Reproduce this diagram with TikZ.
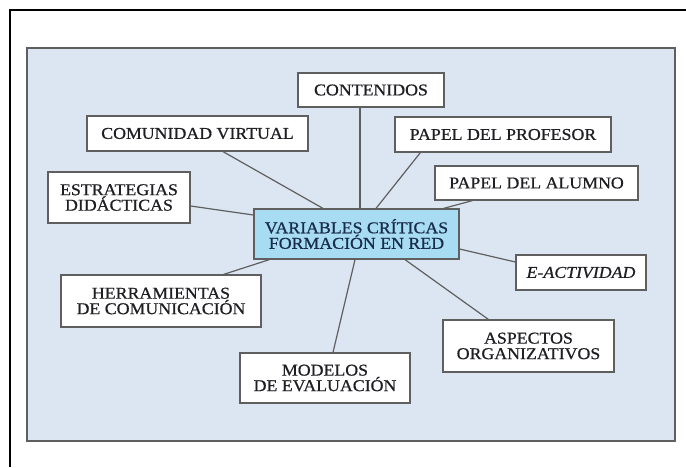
\documentclass[tikz,border=0pt]{standalone}
\usepackage{fontspec}
\setmainfont{Liberation Serif}[FakeStretch=1.08, FakeBold=0.7]
\usetikzlibrary{positioning}
\definecolor{fondo}{RGB}{220,230,242}
\definecolor{celeste}{RGB}{168,220,242}
\definecolor{borde}{RGB}{95,95,95}
\definecolor{tinta}{RGB}{30,30,35}
\definecolor{azul}{RGB}{25,45,75}
\tikzstyle{block} = [rectangle, draw=borde, fill=white, line width=1.2pt,
    text=tinta, align=center, inner sep=0pt, font=\fontsize{16.5}{15.5}\selectfont]
\tikzstyle{core} = [block, fill=celeste, text=azul]
\tikzstyle{line} = [draw=borde, line width=1.2pt]

\begin{document}
\begin{tikzpicture}[x=1pt, y=-1pt]
		\useasboundingbox (0,0) rectangle (686,467);
		\draw[line width=1.5pt] (10,467) -- (10,10) -- (686,10);
		\draw[draw=borde, fill=fondo, line width=1.5pt] (27,48) rectangle (675,441);
		% node placement
		\node [core, minimum width=205pt, minimum height=50pt] (VCF) at (356.5,234) {VARIABLES CRÍTICAS\\FORMACIÓN EN RED};
		\node [block, minimum width=146pt, minimum height=34pt] (CONT) at (371,90) {CONTENIDOS};
		\node [block, minimum width=221pt, minimum height=35pt] (COMV) at (197.5,133.5) {COMUNIDAD VIRTUAL};
		\node [block, minimum width=142pt, minimum height=51pt] (ESTR) at (119,197.5) {ESTRATEGIAS\\DIDÁCTICAS};
		\node [block, minimum width=216pt, minimum height=35pt] (PROF) at (503,134.5) {PAPEL DEL PROFESOR};
		\node [block, minimum width=203pt, minimum height=34pt] (ALUM) at (536.5,183) {PAPEL DEL ALUMNO};
		\node [block, minimum width=130pt, minimum height=35pt] (EACT) at (581,272.5) {\itshape E-ACTIVIDAD};
		\node [block, minimum width=171pt, minimum height=52pt] (ASPO) at (528.5,346) {ASPECTOS\\ORGANIZATIVOS};
		\node [block, minimum width=170pt, minimum height=50pt] (MODE) at (325,378) {MODELOS\\DE EVALUACIÓN};
		\node [block, minimum width=200pt, minimum height=52pt] (HERR) at (161,301) {HERRAMIENTAS\\DE COMUNICACIÓN};
		
		% spokes
		\path[line] ([xshift=-11pt]CONT.south) -- ([xshift=3.5pt]VCF.north);
		\path[line] ([xshift=25.5pt]COMV.south) -- ([xshift=-33.5pt]VCF.north);
		\path[line] ([yshift=-8.5pt]ESTR.east) -- ([yshift=19pt]VCF.west);
		\path[line] ([xshift=26pt]PROF.south west) -- ([xshift=19.5pt]VCF.north);
		\path[line] ([xshift=38pt]ALUM.south west) -- ([xshift=-16pt]VCF.north east);
		\path[line] ([yshift=10.5pt]EACT.west) -- ([yshift=-15pt]VCF.east);
		\path[line] ([xshift=46pt]ASPO.north west) -- ([xshift=48.5pt]VCF.south);
		\path[line] ([xshift=8pt]MODE.north) -- ([xshift=-1.5pt]VCF.south);
		\path[line] ([xshift=-38pt]HERR.north east) -- ([xshift=16pt]VCF.south west);
	\end{tikzpicture}
\end{document}
